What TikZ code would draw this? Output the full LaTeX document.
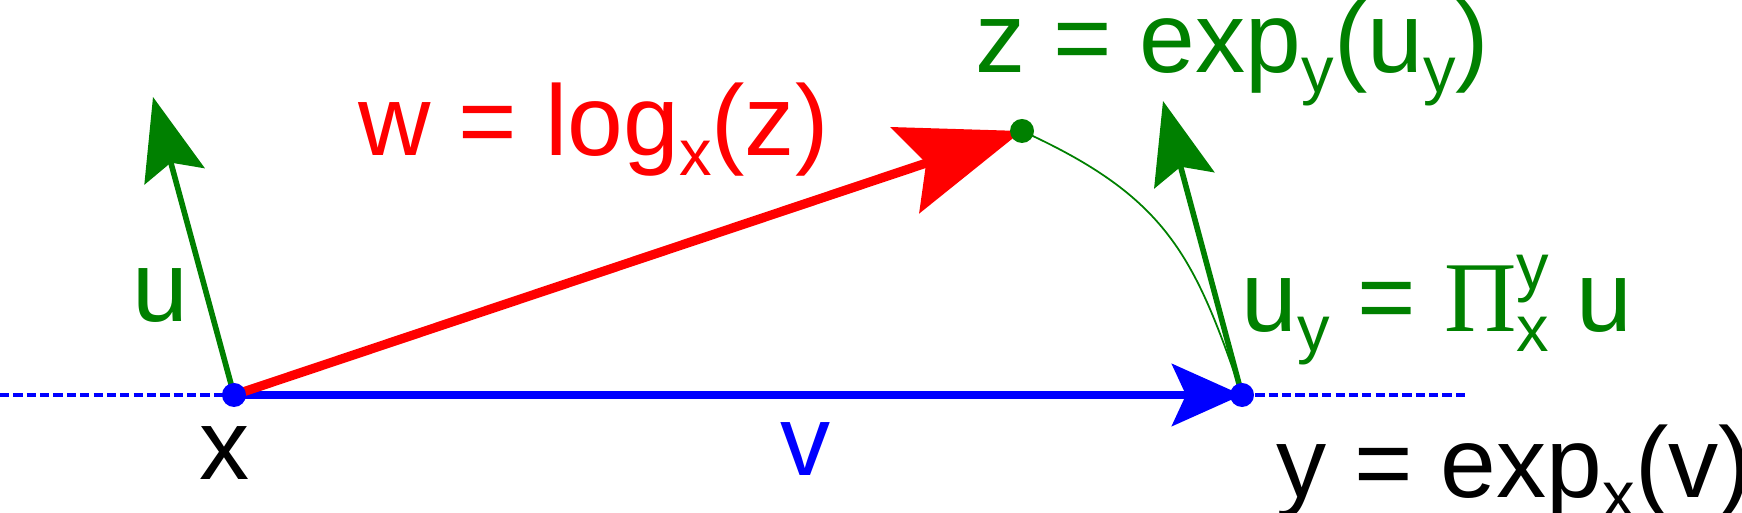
\documentclass[tikz,border=0pt]{standalone}
\usepackage{fontspec}
\setmainfont{Liberation Sans}
\newfontfamily\pifont{Liberation Serif}
\usepackage{tikz}
\usetikzlibrary{arrows.meta}
\definecolor{mfgreen}{RGB}{0,128,0}
\newcommand{\lowidx}[1] {\raisebox{-5.5pt}{\fontsize{18.5}{18.5}\selectfont #1}}
\newcommand{\upidx}[1] {\raisebox{12pt}{\fontsize{18.5}{18.5}\selectfont #1}}
\newcommand{\mfpoint}[2] {\coordinate (#2) at (#1);}
\newcommand{\mfdot}[2] {\fill [#2] (#1) circle [radius=0.12cm];}
\newcommand{\mfvector}[4] {\draw [#1, line width=#2] (#3) -- (#4);}
\newcommand{\mflabel}[4] {\node [#1] at (#2) (#3) {#4};}
\tikzset{
  redtip/.style={-{Stealth[length=12.3mm, width=9mm, inset=2.2mm]}},
  bluetip/.style={-{Stealth[length=7mm, width=6.2mm, inset=1.4mm]}},
  greentip/.style={-{Stealth[length=8.2mm, width=6.2mm, inset=1.4mm]}},
  axis/.style={blue, line width=0.95pt, dash pattern=on 2.6pt off 1.2pt},
}

\begin{document}
\begin{tikzpicture}[x=0.01cm, y=-0.01cm, every node/.style={inner sep=0pt, font=\fontsize{28.5}{30}\selectfont}]
\useasboundingbox (0,0) rectangle (1742,513);
\mfpoint {234,395} {x};
\mfpoint {1242,395} {y};
\mfpoint {1022,131} {z};
\mfpoint {153,97} {u tip};
\mfpoint {1163,101} {uy tip};
\mfpoint {0,395} {left end};
\mfpoint {1468,395} {right end};

\draw [axis] (left end) -- (x);
\draw [axis] (y) -- (right end);
\draw [mfgreen, line width=0.5pt] (z) .. controls +(145,66) and +(-48,-140) .. (y);

\mfvector {blue, bluetip} {2.1pt} {x} {y};
\mfvector {red, redtip} {2.6pt} {x} {z};
\mfvector {mfgreen, greentip} {1.6pt} {x} {u tip};
\mfvector {mfgreen, greentip} {1.6pt} {y} {uy tip};

\mfdot {x} {blue};
\mfdot {y} {blue};
\mfdot {z} {mfgreen};

\mflabel {anchor=base} {225,480} {x label} {x};
\mflabel {anchor=base, blue} {806,476} {v label} {v};
\mflabel {anchor=base, mfgreen} {160,322} {u label} {u};
\mflabel {anchor=base west, red} {358,156} {log label} {w = log\lowidx{x}(z)};
\mflabel {anchor=base west, mfgreen} {975,73} {z label} {z = exp\lowidx{y}(u\lowidx{y})};
\mflabel {anchor=base west, mfgreen} {1241,332} {uy label} {u\lowidx{y} = {\pifont Π}\rlap{\upidx{y}}\lowidx{x} u};
\mflabel {anchor=base west} {1276,498} {y label} {y = exp\lowidx{x}(v)};
\end{tikzpicture}
\end{document}
